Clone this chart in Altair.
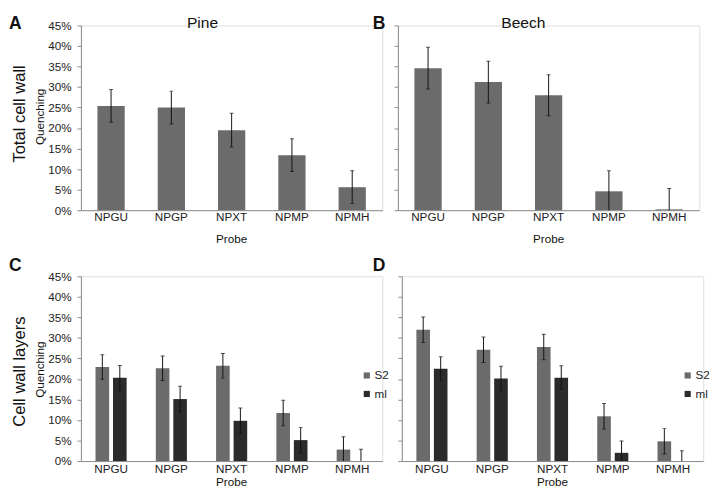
import altair as alt
import pandas as pd

FONT = "Liberation Sans"
GREY = "#6b6b6b"
DARK = "#2b2b2b"
AXIS_C = "#8a8a8a"

PROBES = ["NPGU", "NPGP", "NPXT", "NPMP", "NPMH"]
LAYERS = ["S2", "ml"]
Y_TICKS = [0.0, 0.05, 0.10, 0.15, 0.20, 0.25, 0.30, 0.35, 0.40, 0.45]

# values in percent
PINE_TOTAL = [25.4, 25.0, 19.5, 13.4, 5.6]
PINE_TOTAL_ERR = [4.0, 4.0, 4.1, 4.0, 4.0]
BEECH_TOTAL = [34.6, 31.2, 28.0, 4.6, 0.2]
BEECH_TOTAL_ERR = [5.1, 5.1, 5.0, 5.0, 5.1]

PINE_S2 = [22.9, 22.6, 23.2, 11.7, 2.8]
PINE_S2_ERR = [3.0, 3.0, 3.0, 3.1, 3.1]
PINE_ML = [20.3, 15.1, 9.8, 5.1, 0.0]
PINE_ML_ERR = [3.0, 3.1, 3.1, 3.1, 2.9]
BEECH_S2 = [32.0, 27.1, 27.8, 10.9, 4.8]
BEECH_S2_ERR = [3.1, 3.1, 3.1, 3.1, 3.1]
BEECH_ML = [22.5, 20.1, 20.3, 2.0, 0.0]
BEECH_ML_ERR = [2.9, 3.0, 2.9, 2.9, 2.5]

W = 310
H1, H2 = 190, 190


def frame(vals, errs, layer=None):
    return pd.DataFrame({
        "probe": PROBES,
        "layer": [layer] * len(PROBES),
        "value": [v / 100 for v in vals],
        "lo": [(v - e) / 100 for v, e in zip(vals, errs)],
        "hi": [(v + e) / 100 for v, e in zip(vals, errs)],
    })


def yaxis(labels):
    return alt.Axis(values=Y_TICKS, format=".0%", labels=labels, title=None, grid=False,
                    domainColor=AXIS_C, tickColor=AXIS_C, tickSize=4, labelPadding=6,
                    labelFontSize=12, labelFont=FONT, labelColor="#222")


def xaxis(pad):
    return alt.Axis(title=None, labelAngle=0, ticks=False, tickSize=0, domainColor=AXIS_C,
                    labelPadding=pad, labelFontSize=12, labelFont=FONT, labelColor="#222",
                    grid=False)


def txt(s, x, y, size, bold=False, angle=0, align="left", baseline="alphabetic"):
    return alt.Chart(alt.Data(values=[{}])).mark_text(
        text=s, fontSize=size, font=FONT, fontWeight="bold" if bold else "normal",
        angle=angle, align=align, baseline=baseline, color="#111"
    ).encode(x=alt.value(x), y=alt.value(y))


def panel(df, grouped, labels, texts, height, xpad):
    pin = 0.484 if grouped else 0.548
    xscale = alt.Scale(domain=PROBES, paddingInner=pin, paddingOuter=pin / 2)
    yscale = alt.Scale(domain=[0, 0.45], nice=False, zero=True)
    x = alt.X("probe:N", scale=xscale, axis=xaxis(xpad), sort=PROBES)
    enc = dict(x=x)
    if grouped:
        enc["xOffset"] = alt.XOffset("layer:N", sort=LAYERS,
                                     scale=alt.Scale(domain=LAYERS, paddingInner=0.222, paddingOuter=0))
    base = alt.Chart(df)
    if grouped:
        bars = base.mark_bar().encode(
            y=alt.Y("value:Q", scale=yscale, axis=yaxis(labels)),
            color=alt.Color("layer:N", scale=alt.Scale(domain=LAYERS, range=[GREY, DARK]),
                            legend=alt.Legend(title=None, orient="none", legendX=288, legendY=96,
                                              symbolType="square", symbolSize=40,
                                              symbolStrokeWidth=0, labelFontSize=12,
                                              labelFont=FONT, labelColor="#222",
                                              rowPadding=7, padding=0, labelOffset=2)),
            **enc)
    else:
        bars = base.mark_bar(color=GREY).encode(
            y=alt.Y("value:Q", scale=yscale, axis=yaxis(labels)), **enc)
    rules = base.mark_rule(color="#111", strokeWidth=1, clip=True).encode(
        y=alt.Y("lo:Q", scale=yscale, axis=yaxis(labels)), y2="hi:Q", **enc)
    cap_hi = base.mark_tick(color="#111", thickness=1, size=4, clip=True).encode(
        y=alt.Y("hi:Q", scale=yscale, axis=yaxis(labels)), **enc)
    cap_lo = base.mark_tick(color="#111", thickness=1, size=4, clip=True).encode(
        y=alt.Y("lo:Q", scale=yscale, axis=yaxis(labels)), **enc)
    return alt.layer(bars, rules, cap_hi, cap_lo, *texts).properties(width=W, height=height)


pA = panel(frame(PINE_TOTAL, PINE_TOTAL_ERR), False, True, [
    txt("A", -74, 4, 18, bold=True),
    txt("B", 300, 4, 18, bold=True),
    txt("Pine", 125, 3, 16, align="center"),
    txt("Total cell wall", -63, 91, 17, angle=270, align="center", baseline="middle"),
    txt("Quenching", -42, 94, 12, angle=270, align="center", baseline="middle"),
    txt("Probe", 155, 224, 12, align="center"),
], H1, 2)
pB = panel(frame(BEECH_TOTAL, BEECH_TOTAL_ERR), False, False, [
    txt("Beech", 129, 3, 16, align="center"),
    txt("Probe", 155, 224, 12, align="center"),
], H1, 2)

df_c = pd.concat([frame(PINE_S2, PINE_S2_ERR, "S2"), frame(PINE_ML, PINE_ML_ERR, "ml")])
df_d = pd.concat([frame(BEECH_S2, BEECH_S2_ERR, "S2"), frame(BEECH_ML, BEECH_ML_ERR, "ml")])

pC = panel(df_c, True, True, [
    txt("C", -74, -5, 18, bold=True),
    txt("D", 300, -5, 18, bold=True),
    txt("Cell wall layers", -63, 98, 17, angle=270, align="center", baseline="middle"),
    txt("Quenching", -42, 96, 12, angle=270, align="center", baseline="middle"),
    txt("Probe", 155, 216, 12, align="center"),
], H2, 3)
pD = panel(df_d, True, False, [
    txt("Probe", 155, 216, 12, align="center"),
], H2, 3)

row1 = alt.hconcat(pA, pB, spacing=7)
row2 = alt.hconcat(pC, pD, spacing=7).resolve_legend(color="independent")

chart = alt.vconcat(row1, row2, spacing=11).resolve_legend(color="independent").properties(
    padding={"left": 0, "top": 0, "right": 0, "bottom": 0},
    autosize=alt.AutoSizeParams(type="pad"),
).configure_view(stroke=None).configure(font=FONT)

chart.save("out.html", embed_options={"renderer": "svg", "actions": False})
